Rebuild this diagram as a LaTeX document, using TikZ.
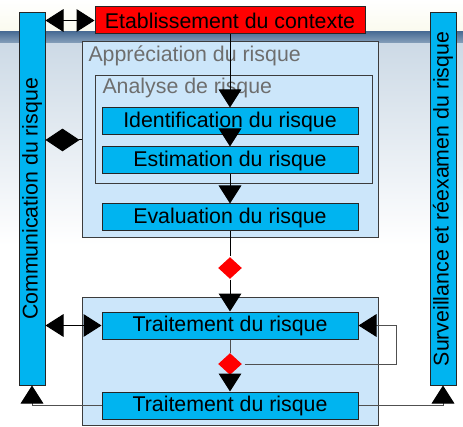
\documentclass[tikz,border=0pt]{standalone}
\usepackage{graphicx}
\usepackage{fontspec}
\setmainfont{Liberation Sans}
\usetikzlibrary{arrows.meta,positioning,shapes.geometric}
\definecolor{cyanbox}{RGB}{0,180,240}
\definecolor{paleblue}{RGB}{204,230,250}
\definecolor{edgegray}{RGB}{60,60,60}
\definecolor{labelgray}{RGB}{110,110,110}
\definecolor{linegray}{RGB}{80,80,80}
\definecolor{bandtop}{RGB}{75,110,150}
\definecolor{bandbot}{RGB}{140,165,190}
\definecolor{haze}{RGB}{205,218,230}
\tikzset{tri/.tip={Triangle[length=13.5pt,width=17pt,color=black]}}

\begin{document}
\begin{tikzpicture}[x=0.75pt,y=-0.75pt,on grid,line width=0.75pt,
  every node/.style={font=\fontsize{16}{19}\selectfont},
  etape/.style={draw=black!85,fill=cyanbox,minimum width=192pt,minimum height=20.25pt,inner sep=0pt},
  barre/.style={draw=black!85,fill=cyanbox,minimum width=19.5pt,minimum height=279pt,inner sep=0pt},
  cadre/.style={draw=edgegray,fill=paleblue,inner sep=0pt},
  titre/.style={text=labelgray,inner sep=0pt,anchor=base west},
  decision/.style={diamond,fill=red,minimum width=18pt,minimum height=16.5pt,inner sep=0pt}]
  \useasboundingbox (0,0) rectangle (463,427);
  % background
  \fill[top color=white,bottom color={rgb,255:red,250;green,250;blue,238}] (0,0) rectangle (463,32);
  \fill[top color=bandtop,bottom color=bandbot] (0,32) rectangle (463,44);
  \fill[top color=haze,bottom color=white] (0,44) rectangle (463,245);
  \fill[white] (0,245) rectangle (463,427);
  % containers
  \node[cadre,minimum width=222pt,minimum height=147pt] (apprec) at (230,140) {};
  \node[cadre,minimum width=207.75pt,minimum height=81pt] (analyse) at (233.5,130) {};
  \node[cadre,minimum width=222pt,minimum height=96pt] (traitzone) at (230,361) {};
  \node[titre] (apprlabel) at (88,62) {Appréciation du risque};
  \node[titre] (analabel) at (102,94) {Analyse de risque};
  % steps
  \node[etape,fill=red,minimum width=202.5pt] (contexte) at (230,20.5) {Etablissement du contexte};
  \node[etape] (identif) [below=75.75pt of contexte] {Identification du risque};
  \node[etape] (estim) [below=29.25pt of identif] {Estimation du risque};
  \node[etape] (evalu) [below=42.75pt of estim] {Evaluation du risque};
  \node[decision] (choix1) [below=37.875pt of evalu] {};
  \node[etape] (trait1) [below=43.125pt of choix1] {Traitement du risque};
  \node[decision] (choix2) [below=28.875pt of trait1] {};
  \node[etape] (trait2) [below=31.125pt of choix2] {Traitement du risque};
  % side bars
  \node[barre] (commu) at (32,199) {\rotatebox{90}{Communication du risque}};
  \node[barre] (surv) at (443,199) {\rotatebox{90}{Surveillance et réexamen du risque}};
  \coordinate (boucle) at (396,364);
  % connectors
  \draw[tri-tri] (commu.east |- contexte.west) -- (contexte.west);
  \draw[-tri] (contexte) -- (identif);
  \draw[-tri] (identif) -- (estim);
  \draw[-tri] (estim) -- (evalu);
  \draw[{Diamond[length=25.5pt,width=17pt]}-] (commu.east |- apprec.west) -- (apprec.west);
  \draw (evalu) -- (choix1);
  \draw[-tri] (choix1) -- (trait1);
  \draw[tri-tri] (commu.east |- trait1.west) -- (trait1.west);
  \draw[linegray] (trait1) -- (choix2);
  \draw[-tri] (choix2) -- (trait2);
  \draw[linegray,-tri] ([xshift=1.5pt]choix2.east) -- (boucle) |- (trait1.east);
  \draw[linegray,-tri] (trait2.west) -| (commu.south);
  \draw[linegray,-tri] (trait2.east) -| (surv.south);
\end{tikzpicture}
\end{document}
